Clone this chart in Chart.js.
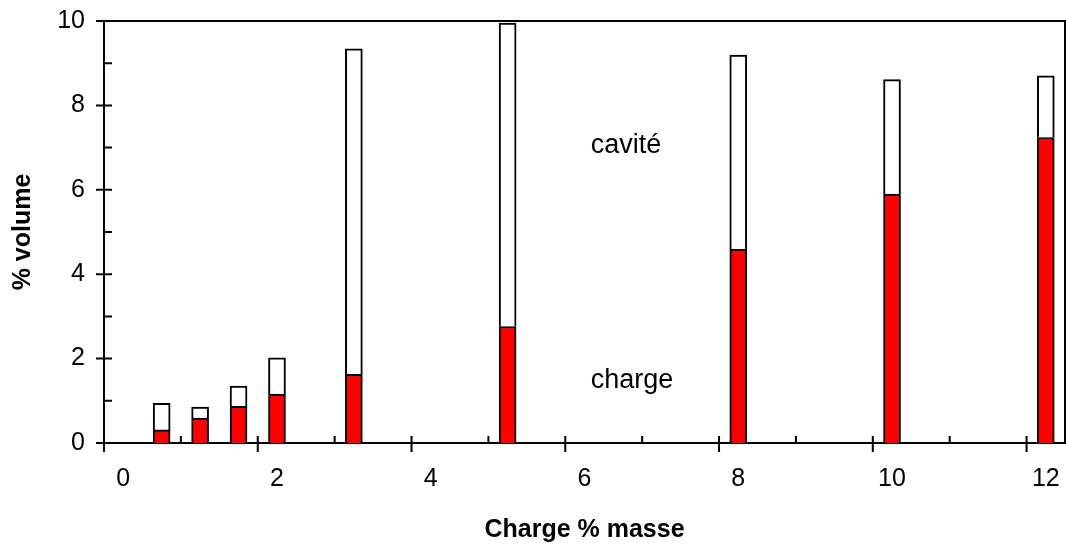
<!DOCTYPE html>
<html>
<head>
<meta charset="utf-8">
<script src="https://cdn.jsdelivr.net/npm/chart.js@4/dist/chart.umd.min.js"></script>
<style>
  html, body { margin: 0; padding: 0; background: #fff; }
  #wrap { width: 1066px; height: 545px; position: relative; }
</style>
</head>
<body>
<div id="wrap"><canvas id="chart"></canvas></div>
<script>
// charge % masse (x) and stacked % volume segments
const chargeMasse = [0.5, 1, 1.5, 2, 3, 5, 8, 10, 12];
const chargeVolume = [0.31, 0.59, 0.87, 1.16, 1.63, 2.76, 4.59, 5.90, 7.24];
const caviteVolume = [0.63, 0.26, 0.48, 0.86, 7.71, 7.19, 4.60, 2.71, 1.46];

const xTicks = [0, 2, 4, 6, 8, 10, 12];
const yTicks = [0, 2, 4, 6, 8, 10];

// in-plot labels (data coordinates)
const noteText = ["cavité", "charge"];
const noteX = [6.08, 6.08];
const noteY = [6.87, 1.3];

Chart.defaults.font.family = '"Liberation Sans", Arial, sans-serif';
Chart.defaults.color = "#000";

const frameAndTicks = {
  id: "frameAndTicks",
  afterDraw(chart) {
    const { ctx, chartArea: a, scales: { x, y } } = chart;
    ctx.save();
    ctx.strokeStyle = "#000";
    ctx.lineWidth = 2;
    ctx.beginPath();
    ctx.moveTo(a.left, a.top);
    ctx.lineTo(a.right, a.top);
    ctx.lineTo(a.right, a.bottom);
    yTicks.forEach((v) => {
      const p = y.getPixelForValue(v);
      ctx.moveTo(a.left - 8, p);
      ctx.lineTo(a.left + 8, p);
    });
    yTicks.slice(1).forEach((v) => {
      const p = y.getPixelForValue(v - 1);
      ctx.moveTo(a.left, p);
      ctx.lineTo(a.left + 8, p);
    });
    // tick marks sit a quarter unit left of the labels, like the original
    xTicks.forEach((v) => {
      const p = x.getPixelForValue(v - 0.25);
      ctx.moveTo(p, a.bottom - 7);
      ctx.lineTo(p, a.bottom + 9);
    });
    xTicks.slice(0, -1).forEach((v) => {
      const p = x.getPixelForValue(v + 0.75);
      ctx.moveTo(p, a.bottom - 7);
      ctx.lineTo(p, a.bottom);
    });
    ctx.stroke();

    ctx.fillStyle = "#000";
    ctx.font = '27px "Liberation Sans", Arial, sans-serif';
    ctx.textAlign = "left";
    ctx.textBaseline = "alphabetic";
    noteText.forEach((t, i) => {
      ctx.fillText(t, x.getPixelForValue(noteX[i]), y.getPixelForValue(noteY[i]));
    });
    ctx.restore();
  },
};

function noPadding(scale) {
  scale.paddingLeft = 0;
  scale.paddingRight = 0;
  scale.paddingTop = 0;
  scale.paddingBottom = 0;
}

new Chart(document.getElementById("chart"), {
  type: "bar",
  data: {
    datasets: [
      {
        label: "charge",
        data: chargeMasse.map((m, i) => ({ x: m, y: chargeVolume[i] })),
        backgroundColor: "#ff0000",
        borderColor: "#000",
        borderWidth: 2,
        borderSkipped: "start",
        barThickness: 17,
      },
      {
        label: "cavité",
        data: chargeMasse.map((m, i) => ({ x: m, y: caviteVolume[i] })),
        backgroundColor: "#ffffff",
        borderColor: "#000",
        borderWidth: 2,
        borderSkipped: "start",
        barThickness: 17,
      },
    ],
  },
  plugins: [frameAndTicks],
  options: {
    responsive: true,
    maintainAspectRatio: false,
    animation: false,
    layout: { padding: { top: 21, right: 1, left: 0, bottom: 0 } },
    plugins: {
      legend: { display: false },
      tooltip: { enabled: false },
    },
    scales: {
      x: {
        type: "linear",
        stacked: true,
        offset: false,
        min: -0.25,
        max: 12.25,
        afterBuildTicks: (scale) => {
          scale.ticks = xTicks.map((v) => ({ value: v }));
        },
        afterFit: (scale) => {
          scale.height = 102;
          noPadding(scale);
        },
        ticks: {
          font: { size: 25 },
          padding: 21,
          maxRotation: 0,
        },
        grid: { display: false, drawTicks: false },
        border: { display: true, color: "#000", width: 2 },
        title: {
          display: true,
          text: "Charge % masse",
          font: { size: 25, weight: "bold" },
          padding: { top: 0, bottom: 0 },
        },
      },
      y: {
        stacked: true,
        min: 0,
        max: 10,
        afterBuildTicks: (scale) => {
          scale.ticks = yTicks.map((v) => ({ value: v }));
        },
        afterFit: (scale) => {
          scale.width = 104;
          noPadding(scale);
        },
        ticks: {
          font: { size: 25 },
          padding: 19,
        },
        grid: { display: false, drawTicks: false },
        border: { display: true, color: "#000", width: 2 },
        title: {
          display: true,
          text: "% volume",
          font: { size: 25, weight: "bold" },
          padding: { top: 8, bottom: 0 },
        },
      },
    },
  },
});
</script>
</body>
</html>
